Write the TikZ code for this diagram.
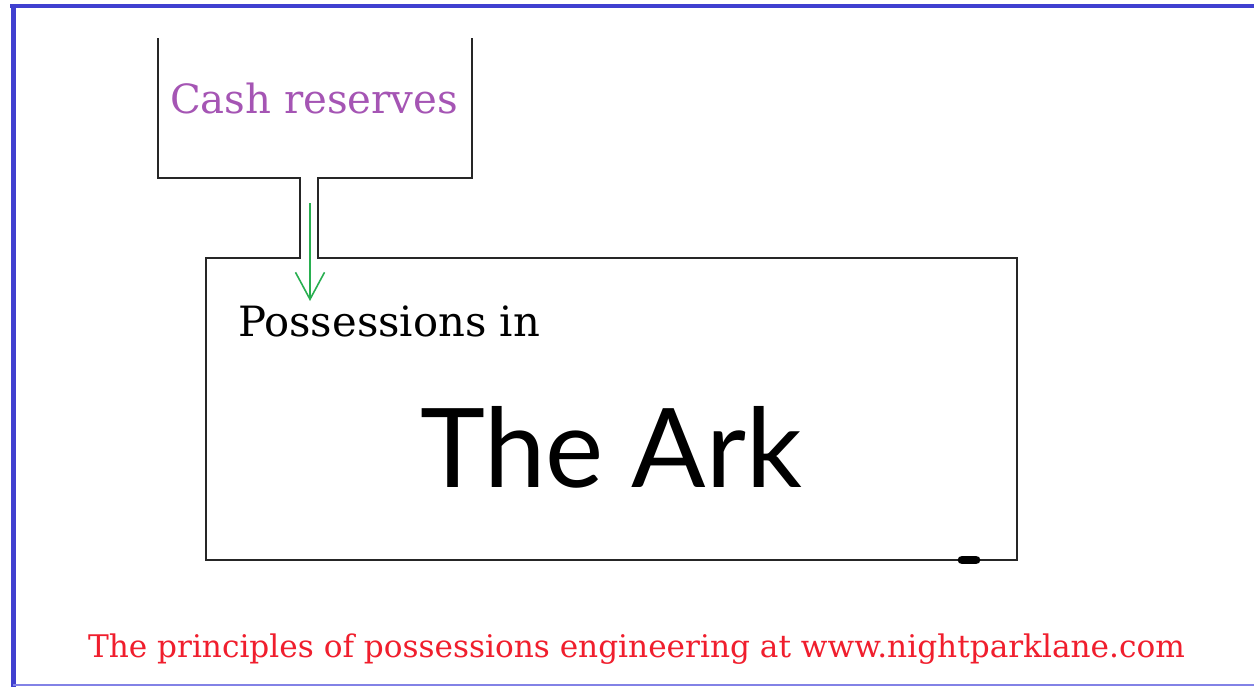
\documentclass[tikz,border=0pt]{standalone}
\usepackage{fontspec}
\usepackage{graphicx}
\setmainfont{DejaVu Serif}
\newfontfamily\arkfont{Lato}
\usetikzlibrary{arrows.meta}
\definecolor{framblue}{RGB}{64,64,208}
\definecolor{lightblue}{RGB}{130,130,230}
\definecolor{cashpurple}{RGB}{165,85,180}
\definecolor{notered}{RGB}{240,30,45}
\definecolor{flowgreen}{RGB}{40,175,80}
\tikzset{
  wall/.style={draw=black!85, line width=1.3pt, line join=miter},
  lbl/.style={anchor=base west, inner sep=0pt, outer sep=0pt},
  flow/.style={draw=flowgreen, line width=0.9pt, -{Straight Barb[length=0.54cm,width=0.58cm,line width=0.9pt]}}
}
\begin{document}
\begin{tikzpicture}[x=0.02cm,y=-0.02cm]
\useasboundingbox[fill=white] (0,0) rectangle (1254,687);
% frame
\draw[framblue, line width=2.6pt] (10,6) -- (1254,6);
\draw[framblue, line width=2.9pt] (13.5,4) -- (13.5,687);
\draw[lightblue, line width=0.9pt] (13,685) -- (1254,685);
% tank and pipe
\draw[wall] (158,38) -- (158,178) -- (300,178) -- (300,258) -- (206,258) -- (206,560) -- (1017,560) -- (1017,258) -- (318,258) -- (318,178) -- (472,178) -- (472,38);
% blob
\draw[black, line width=5pt, line cap=round] (962,560) -- (976,560);
% arrow
\coordinate (flowstart) at (310,203);
\coordinate (flowend) at (310,301);
\draw[flow] (flowstart) -- (flowend);
% texts
\node[lbl, text=cashpurple] (cash) at (170,113) {\resizebox{5.76cm}{!}{Cash reserves}};
\node[lbl] (poss) at (238,336) {\resizebox{6.04cm}{!}{Possessions in}};
\node[lbl] (ark) at (420,487) {\resizebox{7.64cm}{!}{\arkfont The Ark}};
\node[lbl, text=notered] (note) at (88,657) {\resizebox{21.94cm}{!}{The principles of possessions engineering at www.nightparklane.com}};
\end{tikzpicture}
\end{document}
